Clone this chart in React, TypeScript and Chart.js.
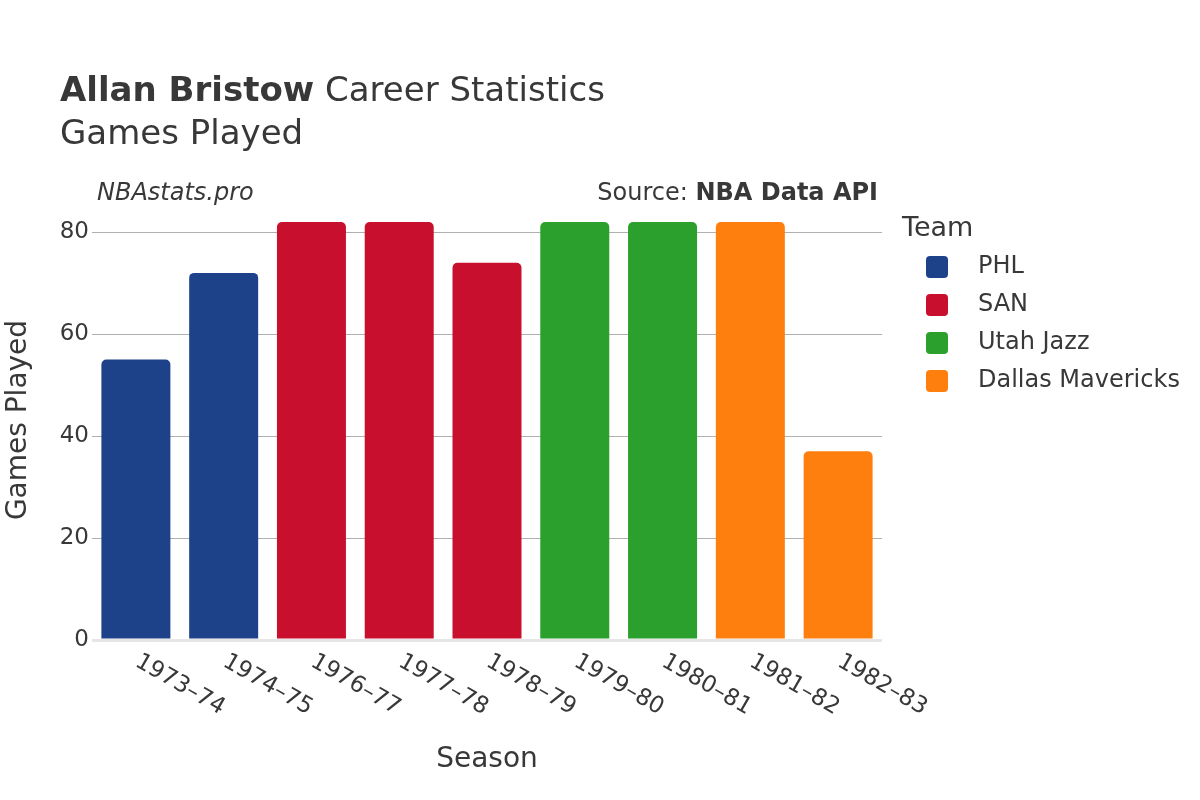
import React, { useEffect, useRef } from "react";
import { Chart, registerables } from "chart.js";

Chart.register(...registerables);

const seasons = ["1973–74", "1974–75", "1976–77", "1977–78", "1978–79", "1979–80", "1980–81", "1981–82", "1982–83"];
const teams = ["PHL", "SAN", "Utah Jazz", "Dallas Mavericks"];
const teamColors = ["#1d428a", "#c8102e", "#2ca02c", "#ff7f0e"];
const gamesPHL = [55, 72, null, null, null, null, null, null, null];
const gamesSAN = [null, null, 82, 82, 74, null, null, null, null];
const gamesUTA = [null, null, null, null, null, 82, 82, null, null];
const gamesDAL = [null, null, null, null, null, null, null, 82, 37];
const yTicks = [0, 20, 40, 60, 80];

const FONT = "'DejaVu Sans', sans-serif";
const TEXT = "#383838";

const decorPlugin = {
  id: "decor",
  afterDraw(chart: any) {
    const ctx = chart.ctx;
    const x = chart.scales.x;
    ctx.save();
    ctx.fillStyle = TEXT;
    // Title
    ctx.textBaseline = "alphabetic";
    ctx.textAlign = "left";
    ctx.font = `bold 34px ${FONT}`;
    const bold = "Allan Bristow";
    ctx.fillText(bold, 60, 101);
    const bw = ctx.measureText(bold).width;
    ctx.font = `34px ${FONT}`;
    ctx.fillText(" Career Statistics", 60 + bw, 101);
    ctx.fillText("Games Played", 60, 144);
    // Watermark & source
    ctx.font = `italic 24px ${FONT}`;
    ctx.fillText("NBAstats.pro", 97, 200);
    ctx.textAlign = "right";
    ctx.font = `bold 24px ${FONT}`;
    const src = "NBA Data API";
    ctx.fillText(src, 878, 200);
    const sw = ctx.measureText(src).width;
    ctx.font = `24px ${FONT}`;
    ctx.fillText("Source: ", 878 - sw, 200);
    // X tick labels rotated
    ctx.font = `23px ${FONT}`;
    ctx.textAlign = "left";
    ctx.textBaseline = "middle";
    seasons.forEach((s, i) => {
      const px = x.getPixelForValue(i);
      ctx.save();
      ctx.translate(px + 1, 660);
      ctx.rotate(Math.PI / 6);
      ctx.fillText(s, 0, 0);
      ctx.restore();
    });
    // Axis titles
    ctx.font = `28px ${FONT}`;
    ctx.textAlign = "center";
    ctx.textBaseline = "middle";
    ctx.fillText("Season", (chart.chartArea.left + chart.chartArea.right) / 2, 760);
    ctx.save();
    ctx.translate(19, (chart.chartArea.top + chart.chartArea.bottom) / 2);
    ctx.rotate(-Math.PI / 2);
    ctx.fillText("Games Played", 0, 0);
    ctx.restore();
    // Legend
    ctx.textAlign = "left";
    ctx.textBaseline = "alphabetic";
    ctx.font = `27px ${FONT}`;
    ctx.fillText("Team", 902, 236);
    ctx.font = `24px ${FONT}`;
    ctx.textBaseline = "middle";
    teams.forEach((t, i) => {
      const cy = 267 + i * 38;
      ctx.fillStyle = teamColors[i];
      ctx.beginPath();
      (ctx as any).roundRect(926, cy - 11, 22, 22, 4);
      ctx.fill();
      ctx.fillStyle = TEXT;
      ctx.fillText(t, 978, cy);
    });
    ctx.restore();
  },
};

export default function App() {
  const ref = useRef<HTMLCanvasElement>(null);
  useEffect(() => {
    document.body.style.margin = "0";
    const series = [gamesPHL, gamesSAN, gamesUTA, gamesDAL];
    const chart = new Chart(ref.current!, {
      type: "bar",
      data: {
        labels: seasons,
        datasets: teams.map((t, i) => ({
          label: t,
          data: series[i],
          backgroundColor: teamColors[i],
          borderRadius: 5,
          borderSkipped: "start",
          skipNull: true,
          barPercentage: 0.786,
          categoryPercentage: 1,
        })),
      },
      options: {
        responsive: false,
        animation: false,
        layout: { padding: { left: 0, right: 318, top: 200, bottom: 0 } },
        plugins: { legend: { display: false }, tooltip: { enabled: false }, title: { display: false } },
        scales: {
          x: {
            grid: { display: false },
            border: { display: false },
            ticks: { display: false },
            afterFit: (s: any) => { s.height = 160; },
          },
          y: {
            min: 0,
            max: 86.3,
            afterFit: (s: any) => { s.width = 92; },
            afterBuildTicks: (s: any) => { s.ticks = yTicks.map((v) => ({ value: v })); },
            border: { display: false },
            grid: {
              drawTicks: false,
              color: (c: any) => (c.tick && c.tick.value === 0 ? "#e6e6e6" : "#b0b0b0"),
              lineWidth: (c: any) => (c.tick && c.tick.value === 0 ? 3 : 1),
            },
            ticks: { padding: 3, color: TEXT, font: { family: FONT, size: 23 } },
          },
        },
      },
      plugins: [decorPlugin],
    } as any);
    return () => chart.destroy();
  }, []);
  return <canvas ref={ref} width={1200} height={800} style={{ display: "block" }} />;
}
